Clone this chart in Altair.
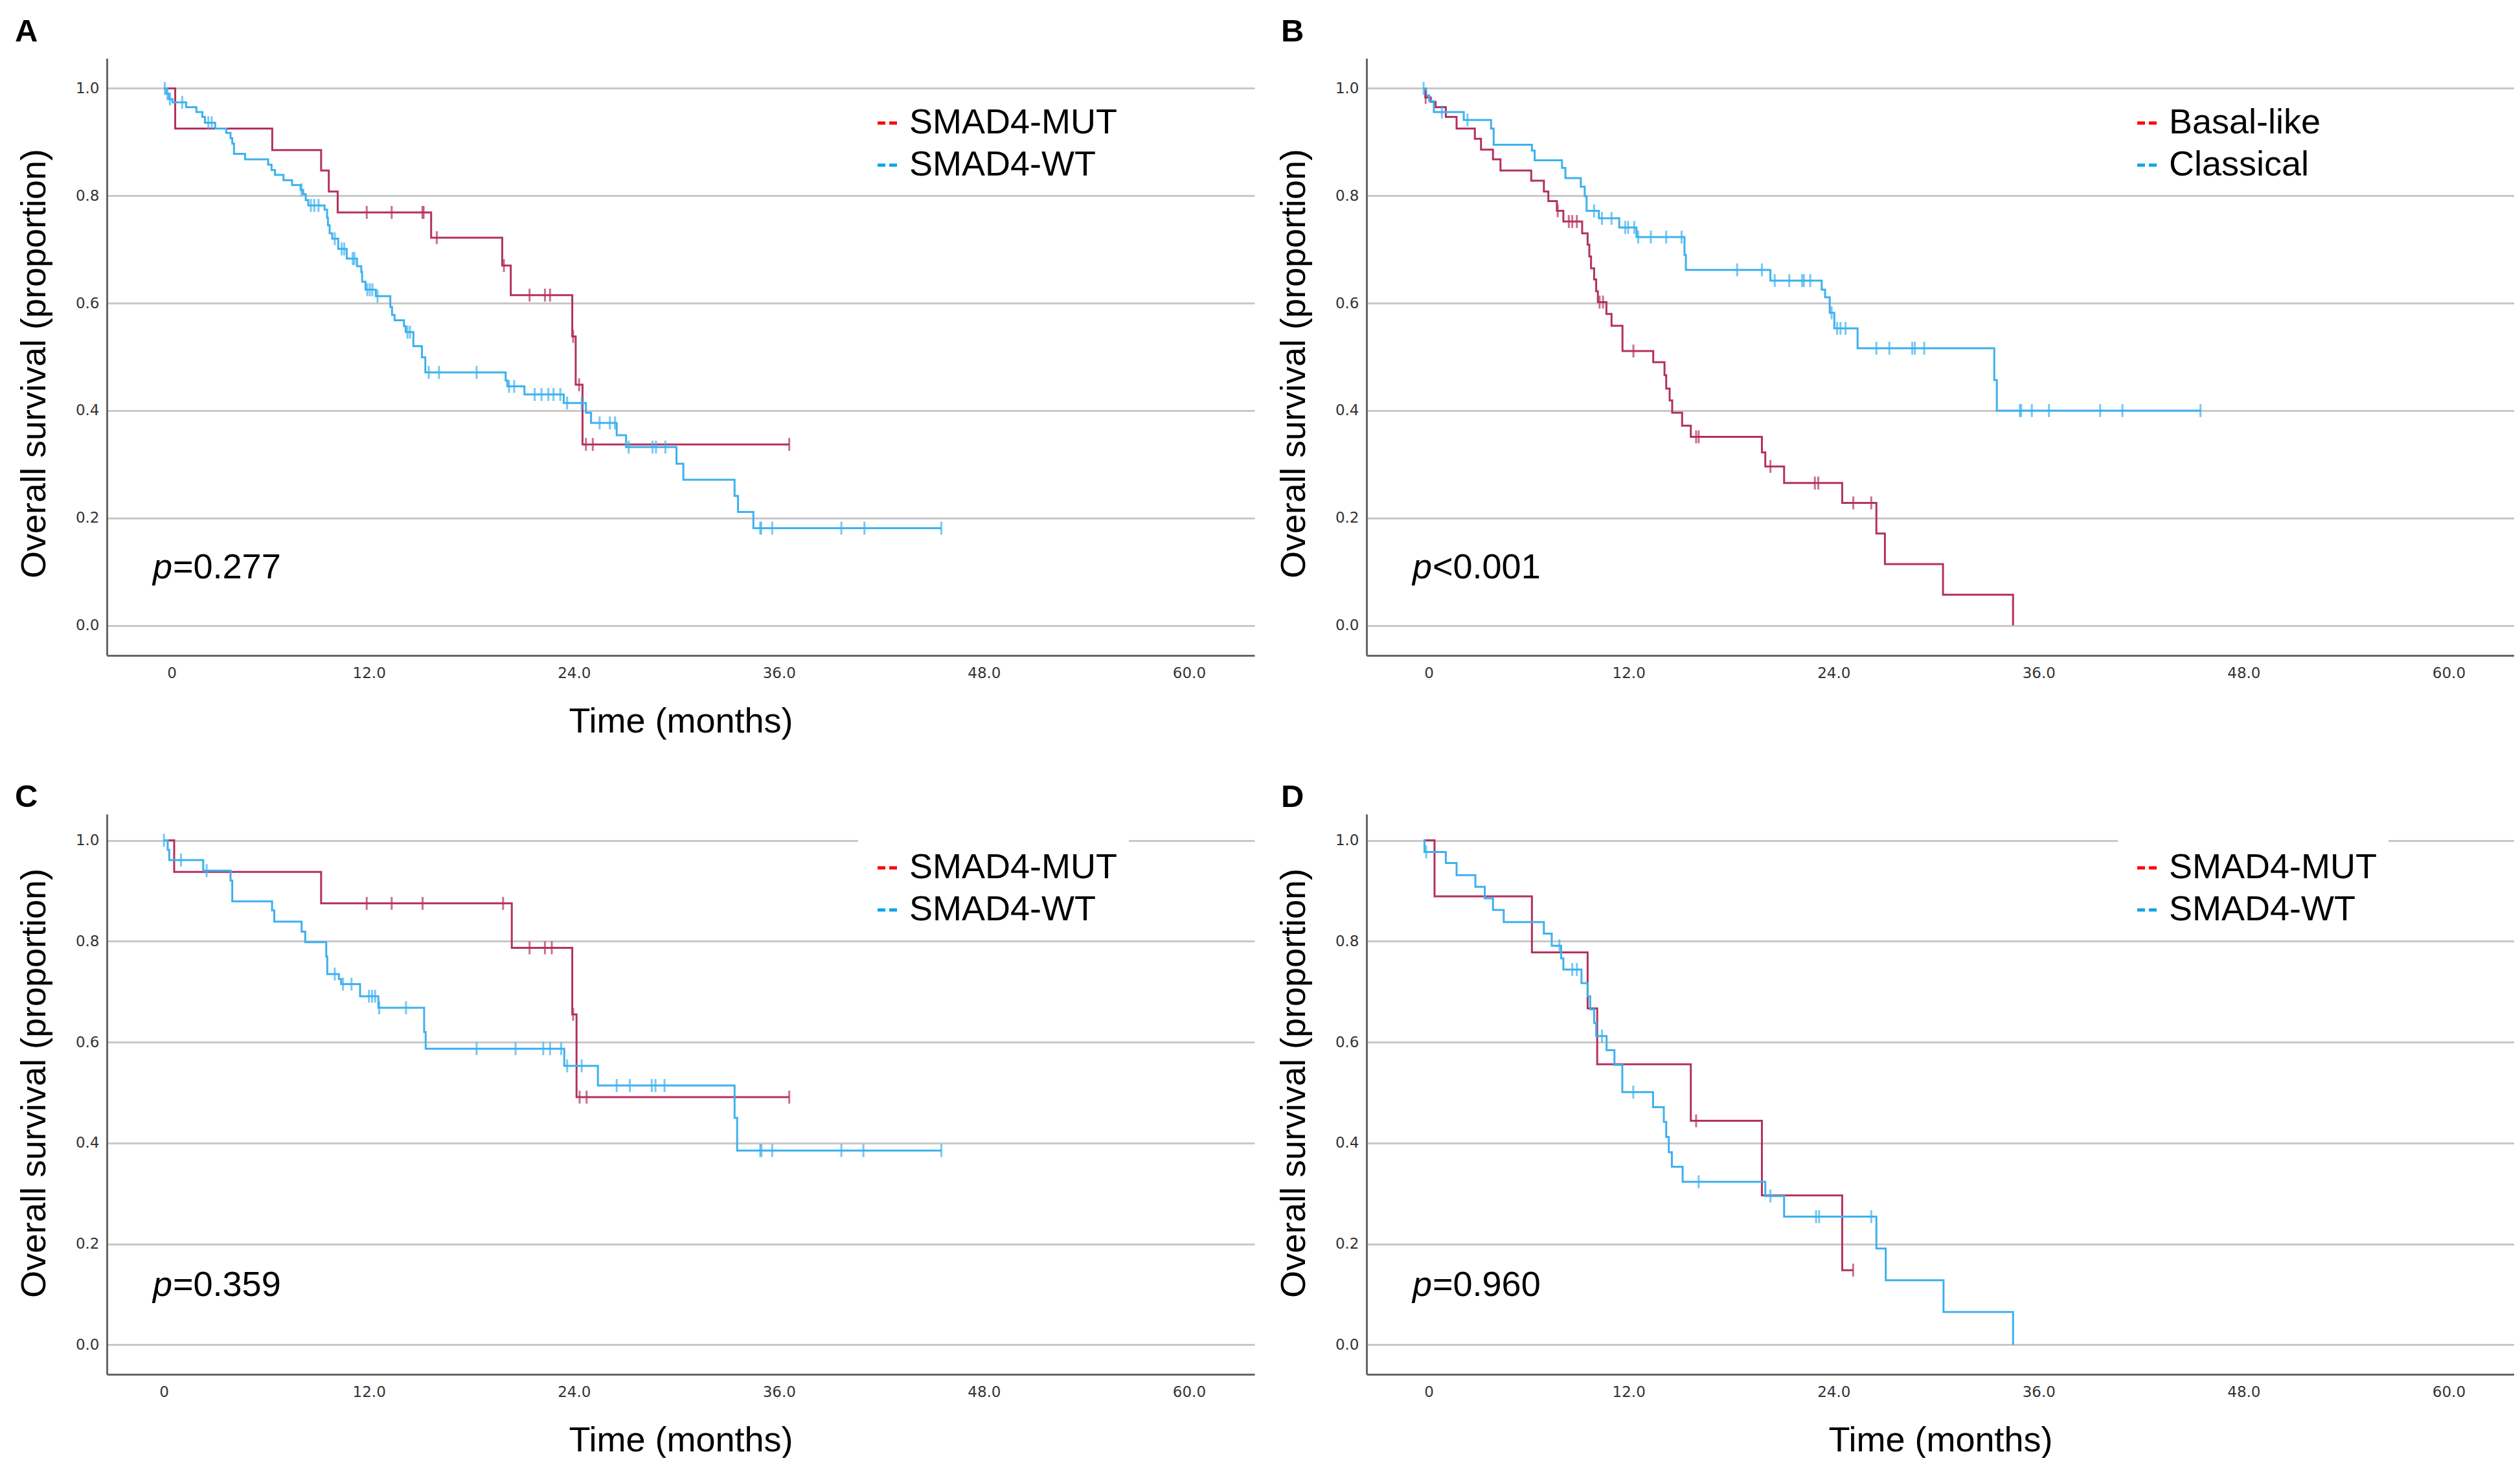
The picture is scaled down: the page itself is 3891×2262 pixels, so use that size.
import altair as alt
import pandas as pd

TEXT_FONT = "Liberation Sans"
TICK_FONT = "DejaVu Sans"

X_TICKS = [0, 12, 24, 36, 48, 60]
Y_TICKS = [0.0, 0.2, 0.4, 0.6, 0.8, 1.0]
X_TITLE = "Time (months)"
Y_TITLE = "Overall survival (proportion)"

LINE_COLORS = ["#b3325f", "#3db1ef"]
LEGEND_COLORS = ["#ff0000", "#12a4ea"]

# ---------------- Panel A : SMAD4 (cohort 1) ----------------
A_GROUPS = ["SMAD4-MUT", "SMAD4-WT"]
A_MUT_t = [0.66, 6.34, 9.2, 9.65, 10.17, 15.64, 19.8, 20.3, 23.9, 24.1, 24.5]
A_MUT_s = [0.925, 0.885, 0.847, 0.808, 0.769, 0.722, 0.670, 0.615, 0.538, 0.448, 0.337]
A_MUT_c = [11.87, 13.33, 15.13, 15.2, 15.97, 19.9, 21.4, 22.3, 22.6, 23.95, 24.3, 24.7, 25.1, 36.6]
A_WT_t = [0.15, 0.3, 0.5, 1.3, 1.9, 2.25, 2.4, 3.0, 3.65, 3.9, 4.0, 4.1, 4.75, 6.1, 6.3,
          6.5, 7.0, 7.5, 8.0, 8.15, 8.3, 8.45, 9.4, 9.55, 9.6, 9.7, 9.85, 10.2, 10.7, 11.3,
          11.55, 11.6, 11.8, 12.4, 13.25, 13.35, 13.5, 14.05, 14.15, 14.6, 15.1, 15.3, 20.0, 20.1, 21.1,
          23.4, 24.7, 25.0, 26.5, 27.05, 30.0, 30.4, 33.4, 33.6, 34.5]
A_WT_s = [0.99, 0.98, 0.974, 0.965, 0.956, 0.947, 0.936, 0.925, 0.917, 0.907, 0.897, 0.878, 0.868, 0.858, 0.848,
          0.839, 0.829, 0.82, 0.811, 0.803, 0.792, 0.782, 0.774, 0.759, 0.745, 0.73, 0.72, 0.701, 0.683, 0.669,
          0.658, 0.64, 0.625, 0.613, 0.593, 0.578, 0.568, 0.557, 0.546, 0.52, 0.499, 0.471, 0.456, 0.445, 0.43,
          0.414, 0.396, 0.377, 0.354, 0.332, 0.301, 0.271, 0.241, 0.211, 0.181]
A_WT_c = [0.05, 0.2, 0.35, 1.07, 2.6, 2.8, 8.05, 8.6, 8.8, 9.05, 10.0, 10.4, 10.55, 11.05, 11.15,
          11.9, 12.05, 12.2, 12.5, 14.25, 14.4, 15.5, 16.1, 18.3, 20.2, 20.5, 21.7, 22.1, 22.5, 22.8,
          23.2, 23.6, 24.45, 25.5, 26.1, 26.4, 27.2, 28.6, 28.8, 29.35, 34.9, 34.95, 35.6, 39.65, 41.0, 45.5]
A_P = ["p", "=0.277"]

# ---------------- Panel B : subtype ----------------
B_GROUPS = ["Basal-like", "Classical"]
B_BAS_t = [0.1, 0.42, 0.7, 1.3, 1.93, 3.0, 3.36, 4.06, 4.5, 6.3, 7.04, 7.3, 7.8, 8.18, 9.28,
           9.6, 9.7, 9.8, 9.98, 10.1, 10.2, 10.7, 11.0, 11.64, 13.44, 14.1, 14.2, 14.4, 14.55, 15.13,
           15.64, 19.8, 20.0, 21.1, 24.5, 26.5, 27.0, 30.4, 34.5]
B_BAS_s = [0.983, 0.975, 0.965, 0.947, 0.925, 0.906, 0.886, 0.868, 0.847, 0.828, 0.808, 0.79, 0.772, 0.752, 0.730,
           0.709, 0.687, 0.665, 0.644, 0.622, 0.602, 0.580, 0.558, 0.511, 0.490, 0.466, 0.441, 0.419, 0.396, 0.372,
           0.351, 0.322, 0.296, 0.265, 0.228, 0.171, 0.114, 0.057, 0.0]
B_BAS_c = [0.12, 7.85, 8.5, 8.7, 8.97, 10.3, 10.5, 12.28, 15.95, 16.1, 20.3, 22.9, 23.1, 25.15, 26.2]
B_CLA_t = [0.15, 0.33, 0.6, 2.35, 3.95, 4.1, 6.34, 6.5, 8.1, 8.3, 9.2, 9.43, 9.54, 10.26, 11.45,
           12.46, 15.27, 15.35, 20.3, 23.3, 23.5, 23.77, 24.04, 25.4, 33.4, 33.55]
B_CLA_s = [0.987, 0.976, 0.956, 0.941, 0.925, 0.895, 0.884, 0.866, 0.852, 0.833, 0.817, 0.799, 0.772, 0.758, 0.741,
           0.723, 0.69, 0.662, 0.642, 0.625, 0.611, 0.582, 0.553, 0.516, 0.457, 0.400]
B_CLA_c = [0.0, 1.07, 2.57, 9.98, 10.44, 11.0, 11.8, 11.97, 12.33, 12.56, 13.3, 14.2, 15.1, 18.35, 19.8,
           20.55, 21.4, 22.15, 22.26, 22.63, 23.88, 24.2, 24.4, 24.7, 26.5, 27.26, 28.6, 28.75, 29.3,
           34.9, 34.97, 35.6, 36.6, 39.6, 40.9, 45.47]
B_P = ["p", "<0.001"]

# ---------------- Panel C : SMAD4 (cohort 2) ----------------
C_GROUPS = ["SMAD4-MUT", "SMAD4-WT"]
C_MUT_t = [0.6, 9.2, 20.36, 23.9, 24.15]
C_MUT_s = [0.9375, 0.875, 0.787, 0.655, 0.491]
C_MUT_c = [11.87, 13.33, 15.14, 19.85, 21.4, 22.3, 22.7, 23.95, 24.33, 24.74, 36.6]
C_WT_t = [0.22, 0.31, 2.3, 3.9, 4.0, 6.33, 6.46, 8.06, 8.27, 9.5, 9.56, 10.24, 10.37, 11.48, 12.55,
          15.23, 15.32, 23.43, 25.4, 33.4, 33.55]
C_WT_s = [0.981, 0.961, 0.94, 0.92, 0.879, 0.861, 0.839, 0.819, 0.798, 0.77, 0.735, 0.725, 0.715, 0.691, 0.668,
          0.62, 0.587, 0.553, 0.514, 0.450, 0.385]
C_WT_c = [0.0, 1.0, 2.5, 10.0, 10.48, 10.98, 12.0, 12.18, 12.36, 12.6, 14.17, 18.3, 20.58, 22.2, 22.6,
          23.25, 23.6, 24.45, 26.5, 27.27, 28.55, 28.77, 29.3, 34.9, 34.97, 35.6, 39.65, 40.94, 45.5]
C_P = ["p", "=0.359"]

# ---------------- Panel D : SMAD4 (cohort 3) ----------------
D_GROUPS = ["SMAD4-MUT", "SMAD4-WT"]
D_MUT_t = [0.64, 6.34, 9.6, 10.16, 15.64, 19.8, 24.5]
D_MUT_s = [0.889, 0.778, 0.667, 0.556, 0.444, 0.296, 0.148]
D_MUT_c = [15.95, 25.14]
D_WT_t = [0.05, 1.3, 1.93, 3.03, 3.58, 4.06, 4.69, 7.04, 7.5, 8.05, 8.18, 9.24, 9.6, 9.75, 9.98,
          10.1, 10.71, 11.17, 11.63, 13.43, 14.06, 14.2, 14.35, 14.53, 15.16, 20.0, 21.1, 26.5, 27.05, 30.43,
          34.5]
D_WT_s = [0.977, 0.955, 0.931, 0.908, 0.885, 0.862, 0.838, 0.815, 0.791, 0.766, 0.744, 0.717, 0.691, 0.665, 0.638,
          0.612, 0.584, 0.555, 0.501, 0.471, 0.442, 0.412, 0.382, 0.353, 0.323, 0.295, 0.254, 0.191, 0.128, 0.065,
          0.0]
D_WT_c = [0.15, 7.95, 8.7, 8.97, 10.44, 12.27, 16.1, 20.3, 22.97, 23.15, 26.2]
D_P = ["p", "=0.960"]

PANELS = [
    dict(letter="A", groups=A_GROUPS, p=A_P, xtitle=X_TITLE,
         curves=[(A_MUT_t, A_MUT_s, A_MUT_c), (A_WT_t, A_WT_s, A_WT_c)]),
    dict(letter="B", groups=B_GROUPS, p=B_P, xtitle="",
         curves=[(B_BAS_t, B_BAS_s, B_BAS_c), (B_CLA_t, B_CLA_s, B_CLA_c)]),
    dict(letter="C", groups=C_GROUPS, p=C_P, xtitle=X_TITLE,
         curves=[(C_MUT_t, C_MUT_s, C_MUT_c), (C_WT_t, C_WT_s, C_WT_c)]),
    dict(letter="D", groups=D_GROUPS, p=D_P, xtitle=X_TITLE,
         curves=[(D_MUT_t, D_MUT_s, D_MUT_c), (D_WT_t, D_WT_s, D_WT_c)]),
]

# layout (pixels)
W = 1772
LAYOUT = [
    dict(h=922, ydom=[-0.056, 1.056], lx=-142, ly=-65, legx=1160, legy=55, ytY=471, pY=803, zoff=12),
    dict(h=922, ydom=[-0.056, 1.056], lx=-132, ly=-65, legx=1160, legy=55, ytY=471, pY=803, zoff=8),
    dict(h=865, ydom=[-0.0585, 1.052], lx=-142, ly=-50, legx=1160, legy=38, ytY=415, pY=744, zoff=0),
    dict(h=865, ydom=[-0.0585, 1.052], lx=-132, ly=-50, legx=1160, legy=38, ytY=415, pY=744, zoff=8),
]
X_DOMAIN = [-3.34, 63.83]


def level_at(ts, ss, t):
    lvl = 1.0
    for ti, si in zip(ts, ss):
        if ti <= t:
            lvl = si
        else:
            break
    return lvl


def build(groups, curves):
    rows, cens = [], []
    for g, (ts, ss, cs) in zip(groups, curves):
        end = max([ts[-1]] + cs)
        pts = [(0.0, 1.0)] + list(zip(ts, ss)) + [(end, ss[-1])]
        for t, s in pts:
            rows.append({"grp": g, "t": t, "s": s})
        for c in cs:
            cens.append({"grp": g, "t": c, "s": level_at(ts, ss, c)})
    return pd.DataFrame(rows), pd.DataFrame(cens)


def panel(P, L):
    steps, cens = build(P["groups"], P["curves"])
    xscale = alt.Scale(domain=X_DOMAIN, nice=False, zero=False)
    yscale = alt.Scale(domain=L["ydom"], nice=False, zero=False)
    xaxis = alt.Axis(values=X_TICKS, labelExpr="datum.value == 0 ? '0' : format(datum.value, '.1f')",
                     labelOffset={"condition": {"test": "datum.value == 0", "value": L["zoff"]}, "value": 0},
                     title=P["xtitle"], grid=False, ticks=False, tickSize=0,
                     domainColor="#666666", domainWidth=3,
                     labelFont=TICK_FONT, labelFontSize=23, labelColor="#333333", labelPadding=16,
                     titleFont=TEXT_FONT, titleFontSize=54, titleFontWeight="normal", titleColor="black",
                     titleX=W / 2, titleY=118, titleBaseline="alphabetic", titleAlign="center")
    yaxis = alt.Axis(values=Y_TICKS, format=".1f", title=Y_TITLE, grid=True,
                     gridColor="#c8c8c8", gridWidth=3, ticks=False, tickSize=0,
                     domainColor="#666666", domainWidth=3,
                     labelFont=TICK_FONT, labelFontSize=23, labelColor="#333333", labelPadding=12,
                     titleFont=TEXT_FONT, titleFontSize=54, titleFontWeight="normal", titleColor="black",
                     titleX=-96, titleY=L["ytY"], titleAngle=270, titleBaseline="alphabetic",
                     titleAlign="center")
    X = alt.X("t:Q", scale=xscale, axis=xaxis)
    Y = alt.Y("s:Q", scale=yscale, axis=yaxis)
    line_color = alt.Color("grp:N", scale=alt.Scale(domain=P["groups"], range=LINE_COLORS), legend=None)

    lines = alt.Chart(steps).mark_line(interpolate="step-after", strokeWidth=3).encode(
        x=X, y=Y, color=line_color, detail="grp:N")
    ticks = alt.Chart(cens).mark_tick(orient="vertical", size=20, thickness=3).encode(
        x=X, y=Y, color=line_color)
    legend_layer = alt.Chart(steps).transform_filter("false").mark_line(strokeDash=[12, 6]).encode(
        x=X, y=Y,
        color=alt.Color("grp:N", scale=alt.Scale(domain=P["groups"], range=LEGEND_COLORS),
                        legend=alt.Legend(orient="none", legendX=L["legx"], legendY=L["legy"], title=None,
                                          labelFont=TEXT_FONT, labelFontSize=54, labelColor="black",
                                          labelLimit=1000, labelOffset=7, symbolType="stroke",
                                          symbolSize=900, symbolStrokeWidth=5, symbolDash=[12, 6],
                                          symbolOpacity=1, rowPadding=11, padding=18,
                                          fillColor="white")))
    letter = alt.Chart(pd.DataFrame({"txt": [P["letter"]]})).mark_text(
        align="left", baseline="top", font=TEXT_FONT, fontSize=49, fontWeight="bold", color="black"
    ).encode(text="txt:N", x=alt.value(L["lx"]), y=alt.value(L["ly"]))
    p_it = alt.Chart(pd.DataFrame({"txt": [P["p"][0]]})).mark_text(
        align="left", baseline="alphabetic", font=TEXT_FONT, fontSize=54, fontStyle="italic", color="black"
    ).encode(text="txt:N", x=alt.value(71), y=alt.value(L["pY"]))
    p_rest = alt.Chart(pd.DataFrame({"txt": [P["p"][1]]})).mark_text(
        align="left", baseline="alphabetic", font=TEXT_FONT, fontSize=54, color="black"
    ).encode(text="txt:N", x=alt.value(102), y=alt.value(L["pY"]))

    return alt.layer(lines, ticks, legend_layer, letter, p_it, p_rest).resolve_scale(
        color="independent").properties(width=W, height=L["h"])


charts = [panel(P, L) for P, L in zip(PANELS, LAYOUT)]

chart = alt.concat(*charts, columns=2, spacing={"row": 245, "column": 173}, bounds="flush").properties(
    padding={"left": 15, "top": 17, "right": 0, "bottom": 0}, background="white"
).configure_view(strokeWidth=0)

chart.save("out.html", embed_options={"renderer": "svg", "actions": False})
